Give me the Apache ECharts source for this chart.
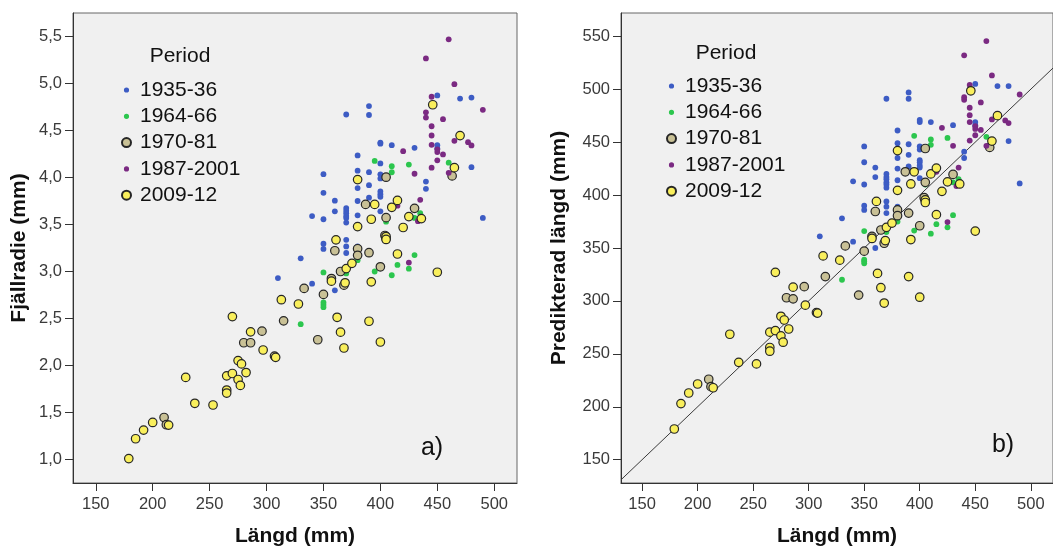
<!DOCTYPE html>
<html><head><meta charset="utf-8">
<script src="https://cdn.jsdelivr.net/npm/echarts@6.0.0/dist/echarts.min.js"></script>
<style>html,body{margin:0;padding:0;background:#fff}#c{width:1053px;height:552px}</style>
</head><body><div id="c"></div><script>
// ---- data ----
const periods = ['1935-36', '1964-66', '1970-81', '1987-2001', '2009-12'];
const xTicks = [150, 200, 250, 300, 350, 400, 450, 500];
const yTicksA = [1.0, 1.5, 2.0, 2.5, 3.0, 3.5, 4.0, 4.5, 5.0, 5.5];
const yTicksB = [150, 200, 250, 300, 350, 400, 450, 500, 550];
const identityLine = [131, 520];

// 1935-36
const len1935 = [310,330,340,340,350,350,350,350,350,360,360,360,370,370,370,370,370,370,370,370,370,370,380,380,380,380,380,380,390,390,390,390,390,400,400,400,400,400,400,400,400,400,410,430,440,440,450,450,450,470,480,480,490];
const rad1935 = [2.93,3.14,3.59,2.87,4.035,3.837,3.556,3.295,3.24,3.753,3.64,2.80,4.67,3.675,3.647,3.62,3.59,3.57,3.52,3.337,3.267,3.197,4.235,4.073,3.887,3.75,3.598,3.267,4.76,4.665,4.057,3.918,3.785,4.372,4.36,4.15,4.034,3.99,3.851,3.823,3.795,3.64,4.344,4.316,3.957,3.88,4.873,4.344,4.31,4.84,4.85,4.11,3.57];
const pred1935 = [361,378,413,356,446,431,410,390,386,426,417,350,491,420,417,415,412,410,407,394,389,383,461,449,435,425,414,389,497,491,448,438,427,471,469,446,443,433,431,428,426,416,469,466,441,435,505,469,466,503,503,451,411];
// 1964-66
const len1964 = [330,350,350,350,350,370,380,395,395,405,410,410,410,415,425,425,430,430,435,460];
const rad1964 = [2.44,2.99,2.67,2.645,2.62,2.98,3.12,4.176,3.0,3.53,4.12,4.056,2.96,3.07,4.137,3.03,3.57,3.175,3.62,4.158];
const pred1964 = [320,366,339,337.5,335.5,365,375,456,366.5,410,452.5,447.5,363.5,372.5,454,369.5,412,381,415,455];
// 1970-81
const len1970 = [210,212,280,286,296,307,315,333,345,350,357,360,365,368,380,380,387,390,400,404,405,405,405,430,463];
const rad1970 = [1.447,1.37,2.242,2.242,2.365,2.10,2.475,2.82,2.274,2.756,2.925,3.221,3.0,2.855,3.242,3.172,3.714,3.2,3.05,3.383,4.003,3.573,3.35,3.672,4.017];
const pred1970 = [226,219,303,302,313.5,289,323,352,305.5,347,361,384.5,367,354.5,386,380.5,422,383,371,397.5,444,412,395,419.5,445];
// 1987-2001
const len1987 = [415,420,425,430,433,435,440,440,440,445,445,445,445,445,450,450,450,455,455,460,460,465,465,477,480,490];
const rad1987 = [3.70,4.28,3.095,4.04,3.535,3.763,5.267,4.693,4.637,4.859,4.545,4.447,4.348,4.105,4.30,4.27,4.183,4.62,4.246,5.47,4.05,4.993,4.39,4.376,4.341,4.72];
const pred1987 = [422,463.5,374.5,446.5,408.5,426,532,492.5,490,504,482.5,475.5,469,451.5,465,462.5,456.5,487.5,461.5,545.5,446.5,513,471.5,470.5,468,495];
// 2009-12
const len2009 = [179,185,192,200,214,229,237,253,265,265,265,270,270,275,275,277,278,282,286,297,308,313,328,357,361,362,365,368,369,370,375,380,380,390,392,392,395,400,405,405,410,415,415,420,425,436,446,450,465,470];
const rad2009 = [1.01,1.221,1.313,1.394,1.366,1.873,1.598,1.58,1.89,1.739,1.707,2.52,1.915,2.052,1.851,1.788,2.017,1.925,2.358,2.165,2.087,2.70,2.654,2.897,3.337,2.513,2.355,2.186,2.88,3.031,3.087,3.978,3.478,2.471,3.556,2.89,3.714,2.25,3.372,3.341,3.683,3.756,3.186,3.468,3.584,3.563,4.774,2.992,4.105,4.446];
const pred2009 = [179,203,213,221.5,218,268.5,242,240.5,270.5,256,252.5,327,272,285.5,267,261,282,273.5,313,296,288.5,342.5,338.5,359,394,326,312.5,298,357,369.5,373.5,442,404.5,323,410.5,358,422,303.5,395.5,393,420,425.5,381.5,403.5,412.5,410.5,498.5,366,451,475];

// ---- build ----
const FONT = "'Liberation Sans', Arial, sans-serif";
const sets = [
  {name: periods[0], len: len1935, a: rad1935, b: pred1935, color: '#3d5cc4', size: 5.8, ring: false},
  {name: periods[1], len: len1964, a: rad1964, b: pred1964, color: '#2cc64e', size: 5.8, ring: false},
  {name: periods[2], len: len1970, a: rad1970, b: pred1970, color: '#c9c196', size: 8.5, ring: true},
  {name: periods[3], len: len1987, a: rad1987, b: pred1987, color: '#7b2a82', size: 5.8, ring: false},
  {name: periods[4], len: len2009, a: rad2009, b: pred2009, color: '#f9ef5c', size: 8.5, ring: true}
];
const dotIcon = 'path://M0,0h0.01M9,9h0.01M4.5,1.9A2.6,2.6,0,0,1,4.5,7.1A2.6,2.6,0,0,1,4.5,1.9Z';

function pairs(xs, ys) { return xs.map((x, i) => [x, ys[i]]); }

const series = [{
  type: 'line', xAxisIndex: 1, yAxisIndex: 1, name: 'ref',
  data: identityLine.map(v => [v, v]), symbol: 'none', showSymbol: false, silent: true,
  lineStyle: {color: '#3a3a3a', width: 1}, z: 1, clip: true
}];
sets.forEach(s => {
  ['a', 'b'].forEach((k, gi) => {
    series.push({
      type: 'scatter', name: s.name, xAxisIndex: gi, yAxisIndex: gi,
      data: pairs(s.len, s[k]), symbol: 'circle', symbolSize: s.size,
      itemStyle: {color: s.color, opacity: 1, borderColor: s.ring ? '#262626' : s.color,
                  borderWidth: s.ring ? 1.2 : 0},
      emphasis: {disabled: true}, z: 3
    });
  });
});

const legendData = sets.map(s => ({name: s.name, icon: s.ring ? 'circle' : dotIcon}));
function legend(left, top) {
  return {
    orient: 'vertical', left: left, top: top, padding: 0, itemWidth: 9, itemHeight: 9, itemGap: 5.3,
    selectedMode: false, data: legendData,
    textStyle: {fontSize: 21, color: '#111', fontFamily: FONT, lineHeight: 21, padding: [0, 0, 0, 4]}
  };
}

function xAxis(gi, min, max) {
  return {
    gridIndex: gi, type: 'value', min: min, max: max,
    axisLine: {show: true, onZero: false, lineStyle: {color: '#333', width: 1}},
    axisTick: {show: true, length: 8, customValues: xTicks, lineStyle: {color: '#333'}},
    axisLabel: {customValues: xTicks, fontSize: 16.5, color: '#3a3a3a', margin: 13, fontFamily: FONT},
    splitLine: {show: false},
    name: 'Längd (mm)', nameLocation: 'middle', nameGap: 43,
    nameTextStyle: {fontWeight: 'bold', fontSize: 21, color: '#111', fontFamily: FONT}
  };
}
function yAxis(gi, min, max, ticks, name, gap, fmt) {
  return {
    gridIndex: gi, type: 'value', min: min, max: max,
    axisLine: {show: true, onZero: false, lineStyle: {color: '#333', width: 1}},
    axisTick: {show: true, length: 8, customValues: ticks, lineStyle: {color: '#333'}},
    axisLabel: {customValues: ticks, fontSize: 16.5, color: '#3a3a3a', margin: 11, fontFamily: FONT, formatter: fmt},
    splitLine: {show: false},
    name: name, nameLocation: 'middle', nameGap: gap,
    nameTextStyle: {fontWeight: 'bold', fontSize: 21, color: '#111', fontFamily: FONT}
  };
}

const chart = echarts.init(document.getElementById('c'), null, {renderer: 'canvas'});
chart.setOption({
  animation: false,
  backgroundColor: '#ffffff',
  textStyle: {fontFamily: FONT},
  grid: [
    {left: 73, top: 13, width: 444, height: 474, show: true, backgroundColor: '#f0f0f0', borderColor: '#666', borderWidth: 1},
    {left: 621, top: 13, width: 437, height: 474, show: true, backgroundColor: '#f0f0f0', borderColor: '#666', borderWidth: 1}
  ],
  xAxis: [xAxis(0, 130, 520), xAxis(1, 131, 520)],
  yAxis: [
    yAxis(0, 0.75, 5.75, yTicksA, 'Fjällradie (mm)', 43, v => v.toFixed(1).replace('.', ',')),
    yAxis(1, 128, 572, yTicksB, 'Predikterad längd (mm)', 51, v => String(v))
  ],
  legend: [legend(121, 79.5), legend(666, 75.5)],
  graphic: [
    {type: 'text', x: 180, y: 56.7, style: {text: 'Period', font: '21px ' + FONT, fill: '#111', align: 'center', verticalAlign: 'middle'}},
    {type: 'text', x: 726, y: 53.3, style: {text: 'Period', font: '21px ' + FONT, fill: '#111', align: 'center', verticalAlign: 'middle'}},
    {type: 'text', x: 432, y: 448, style: {text: 'a)', font: '25px ' + FONT, fill: '#111', align: 'center', verticalAlign: 'middle'}},
    {type: 'text', x: 1003, y: 445, style: {text: 'b)', font: '25px ' + FONT, fill: '#111', align: 'center', verticalAlign: 'middle'}}
  ],
  series: series
});
</script></body></html>
